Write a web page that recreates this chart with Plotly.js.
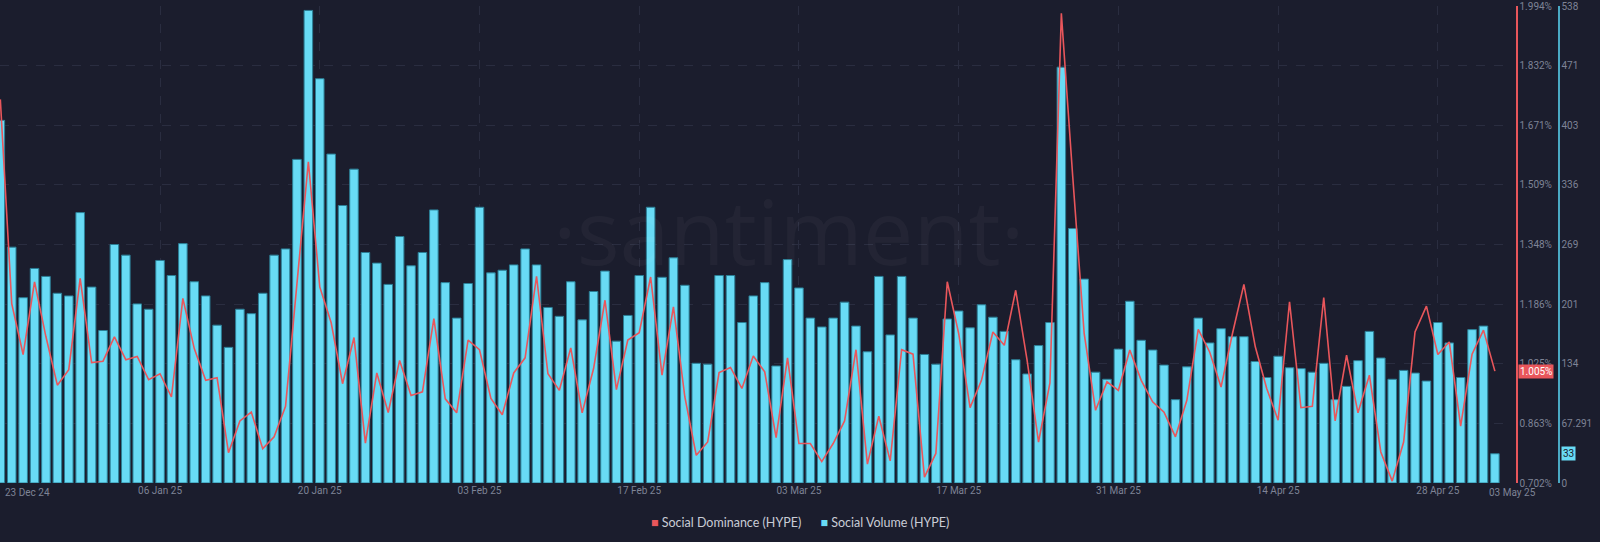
<!DOCTYPE html>
<html>
<head>
<meta charset="utf-8">
<script src="https://cdn.plot.ly/plotly-3.0.1.min.js"></script>
<style>
  html, body { margin: 0; padding: 0; background: #1b1d2d; }
  #chart { width: 1600px; height: 542px; }
</style>
</head>
<body>
<div id="chart"></div>
<script>
// daily values, 23 Dec 24 -> 03 May 25
var startDay = "2024-12-23";

var socialVolume = [
  409, 266, 209, 242, 233, 214, 211, 305, 221, 172, 269, 257, 202, 196, 251, 234, 270, 227, 211, 178,
  153, 196, 191, 214, 257, 264, 365, 533, 456, 371, 313, 354, 260, 248, 224, 278, 245, 260, 308, 226,
  186, 225, 311, 237, 240, 246, 264, 246, 198, 188, 227, 184, 216, 239, 160, 189, 234, 311, 232, 254,
  223, 135, 134, 234, 234, 181, 211, 226, 132, 252, 220, 186, 176, 186, 204, 177, 148, 233, 167, 233,
  186, 145, 134, 185, 194, 175, 201, 187, 171, 139, 123, 155, 181, 469, 287, 230, 125, 117, 151, 205,
  161, 150, 133, 94, 131, 186, 158, 174, 165, 165, 137, 119, 143, 130, 129, 125, 135, 94, 109, 138,
  171, 141, 117, 127, 124, 115, 181, 158, 119, 173, 177, 33
];

var socialDominance = [
  1.741, 1.188, 1.050, 1.247, 1.098, 0.967, 1.009, 1.256, 1.028, 1.032, 1.098, 1.036, 1.045, 0.982, 0.998, 0.935, 1.202, 1.066, 0.980, 0.987,
  0.784, 0.870, 0.894, 0.795, 0.827, 0.910, 1.242, 1.572, 1.233, 1.136, 0.971, 1.096, 0.810, 1.000, 0.893, 1.034, 0.939, 0.949, 1.147, 0.930,
  0.892, 1.089, 1.063, 0.931, 0.887, 1.000, 1.041, 1.262, 0.998, 0.953, 1.068, 0.892, 1.012, 1.197, 0.955, 1.089, 1.109, 1.260, 0.994, 1.179,
  0.935, 0.777, 0.813, 1.001, 1.015, 0.958, 1.046, 1.003, 0.825, 1.041, 0.809, 0.809, 0.760, 0.809, 0.870, 1.063, 0.753, 0.883, 0.762, 1.063,
  1.051, 0.718, 0.782, 1.247, 1.107, 0.906, 0.980, 1.111, 1.075, 1.224, 1.034, 0.813, 0.973, 1.974, 1.531, 1.107, 0.899, 0.976, 0.953, 1.062,
  0.980, 0.922, 0.894, 0.827, 0.926, 1.118, 1.057, 0.962, 1.107, 1.240, 1.071, 0.958, 0.872, 1.193, 0.906, 0.910, 1.204, 0.870, 1.048, 0.892,
  0.994, 0.786, 0.707, 0.813, 1.111, 1.181, 1.050, 1.084, 0.856, 1.051, 1.116, 1.005
];

var xTickVals = ["2025-01-06", "2025-01-20", "2025-02-03", "2025-02-17", "2025-03-03",
                 "2025-03-17", "2025-03-31", "2025-04-14", "2025-04-28"];
var xTickText = ["06 Jan 25", "20 Jan 25", "03 Feb 25", "17 Feb 25", "03 Mar 25",
                 "17 Mar 25", "31 Mar 25", "14 Apr 25", "28 Apr 25"];

var volTickVals = [0, 67.25, 134.5, 201.75, 269, 336.25, 403.5, 470.75, 538];
var volTickText = ["0", "67.291", "134", "201", "269", "336", "403", "471", "538"];

var domTickVals = [0.702, 0.8635, 1.025, 1.1865, 1.348, 1.5095, 1.671, 1.8325, 1.994];
var domTickText = ["0.702%", "0.863%", "1.025%", "1.186%", "1.348%", "1.509%", "1.671%", "1.832%", "1.994%"];

// build the date list
var days = [];
var d0 = new Date(startDay + "T00:00:00Z");
for (var i = 0; i < socialVolume.length; i++) {
  var d = new Date(d0.getTime() + i * 86400000);
  days.push(d.toISOString().slice(0, 10));
}

var bg = "#1b1d2d";
var red = "#e9565b";
var cyan = "#68dbf5";
var tickColor = "#7e8396";
var gridColor = "#2a2d40";

var volTrace = {
  x: days,
  y: socialVolume,
  name: "Social Volume (HYPE)",
  type: "bar",
  yaxis: "y",
  marker: { color: cyan, line: { color: "#2b7f96", width: 1 } },
  showlegend: false
};

var domTrace = {
  x: days,
  y: socialDominance,
  name: "Social Dominance (HYPE)",
  type: "scatter",
  mode: "lines",
  yaxis: "y2",
  line: { color: red, width: 1.6 },
  showlegend: false
};

var tickFont = { family: "Roboto, sans-serif", size: 10, color: tickColor };

var layout = {
  width: 1600,
  height: 542,
  paper_bgcolor: bg,
  plot_bgcolor: bg,
  margin: { l: 0, r: 0, t: 6, b: 59 },
  bargap: 0.25,
  showlegend: false,
  xaxis: {
    type: "date",
    domain: [0, 0.945],
    range: ["2024-12-22 23:20", "2025-05-04 12:00"],
    tickvals: xTickVals,
    ticktext: xTickText,
    tickfont: tickFont,
    ticks: "",
    showgrid: true,
    gridcolor: gridColor,
    griddash: "dash",
    showline: false,
    zeroline: false
  },
  yaxis: {
    side: "right",
    anchor: "free",
    position: 0.97375,
    range: [0, 538],
    tickvals: volTickVals,
    ticktext: volTickText,
    tickfont: tickFont,
    ticks: "",
    showline: true,
    linecolor: "#4aa9c4",
    linewidth: 1.5,
    showgrid: true,
    gridcolor: gridColor,
    griddash: "dash",
    zeroline: false
  },
  yaxis2: {
    side: "right",
    overlaying: "y",
    anchor: "free",
    position: 0.9475,
    range: [0.702, 1.994],
    tickvals: domTickVals,
    ticktext: domTickText,
    tickfont: tickFont,
    ticks: "",
    showline: true,
    linecolor: red,
    linewidth: 1.5,
    showgrid: false,
    zeroline: false
  },
  annotations: [
    {
      text: "\u00b7santiment\u00b7",
      xref: "paper", yref: "paper",
      x: 0.4925, y: 0.53,
      xanchor: "center", yanchor: "middle",
      showarrow: false,
      font: { family: "Open Sans, sans-serif", size: 90, weight: 400, color: "rgba(255,255,255,0.035)" }
    },
    {
      text: "23 Dec 24",
      xref: "paper", yref: "paper",
      x: 0.002, y: 0, xanchor: "left", yanchor: "middle", yshift: -9,
      showarrow: false, font: tickFont
    },
    {
      text: "03 May 25",
      xref: "paper", yref: "paper",
      x: 0.945, y: 0, xanchor: "center", yanchor: "middle", yshift: -9,
      showarrow: false, font: tickFont
    },
    {
      text: socialDominance[socialDominance.length - 1].toFixed(3) + "%",
      xref: "paper", yref: "y2",
      x: 0.949, y: socialDominance[socialDominance.length - 1],
      xanchor: "left", yanchor: "middle",
      showarrow: false, bgcolor: red, borderpad: 1,
      font: { family: "Roboto, sans-serif", size: 10, color: "#ffffff" }
    },
    {
      text: String(socialVolume[socialVolume.length - 1]),
      xref: "paper", yref: "y",
      x: 0.9755, y: socialVolume[socialVolume.length - 1],
      xanchor: "left", yanchor: "middle",
      showarrow: false, bgcolor: cyan, borderpad: 1,
      font: { family: "Roboto, sans-serif", size: 10, color: "#1b1d2d" }
    },
    {
      text: '<span style="color:' + red + '">\u25a0</span> Social Dominance (HYPE)' +
            '      <span style="color:' + cyan + '">\u25a0</span> Social Volume (HYPE)',
      xref: "paper", yref: "paper",
      x: 0.5, y: 0, xanchor: "center", yanchor: "middle", yshift: -39,
      showarrow: false,
      font: { family: "Lato, sans-serif", size: 12.5, color: "#c9ccd6" }
    }
  ]
};

Plotly.newPlot("chart", [volTrace, domTrace], layout, { displayModeBar: false, staticPlot: true });
</script>
</body>
</html>
